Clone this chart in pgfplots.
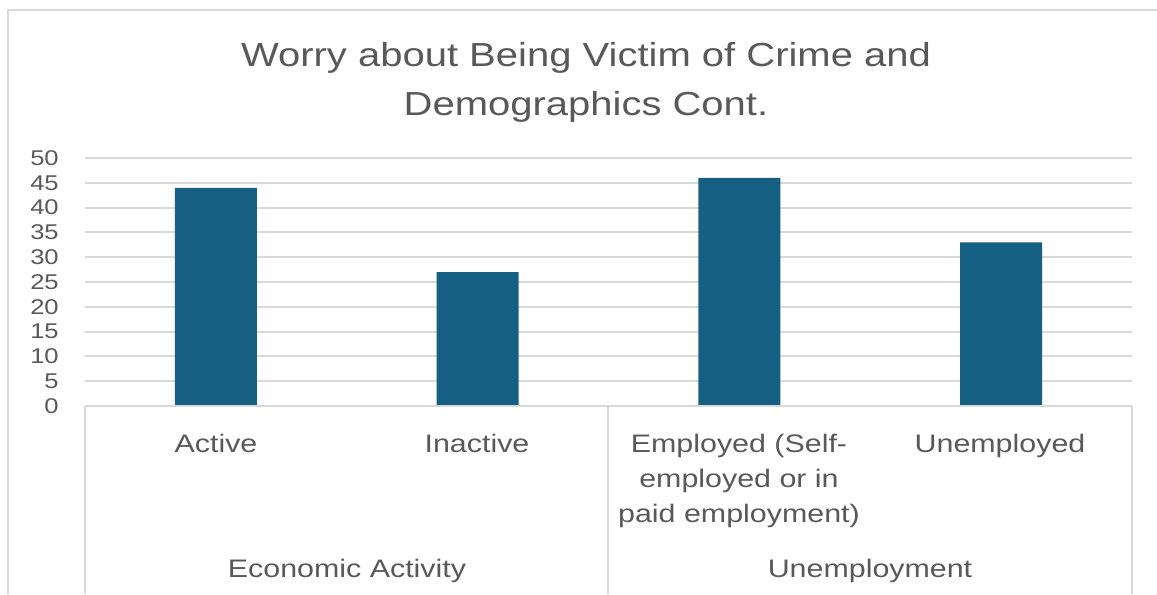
\documentclass[border=0pt]{standalone}
\usepackage{fontspec}
\setmainfont{Liberation Sans}[FakeStretch=1.2]
\usepackage{pgfplots}
\pgfplotsset{compat=1.18}

\definecolor{barblue}{HTML}{156082}
\definecolor{txtgray}{HTML}{595959}
\definecolor{linegray}{HTML}{D9D9D9}

\begin{document}
% picture in pixel units of the reference (1px = 0.75pt), y measured upward
\begin{tikzpicture}[x=0.75pt,y=0.75pt]
\useasboundingbox (0,0) rectangle (1157,594);

% chart frame (only top and left edge visible)
\draw[linegray, line width=1.5pt] (7.5,0) -- (7.5,584) -- (1157,584);

% title
\node[txtgray, anchor=base, font=\fontsize{25}{30}\selectfont] at (586,527) {Worry about Being Victim of Crime and};
\node[txtgray, anchor=base, font=\fontsize{25}{30}\selectfont] at (586,479) {Demographics Cont.};

\begin{axis}[
    at={(63.75pt,141pt)}, anchor=south west,
    scale only axis,
    width=785.25pt, height=186pt,
    xmin=-0.5, xmax=3.5,
    ymin=0, ymax=50,
    ytick={0,5,...,50},
    xtick=\empty,
    ymajorgrids=true,
    grid style={draw=linegray, line width=1.5pt},
    axis line style={draw=none},
    major tick length=0pt,
    /pgf/number format/assume math mode=true,
    yticklabel style={font=\fontsize{16}{18}\selectfont, text=txtgray, inner sep=0pt, xshift=-19.5pt},
    ybar, bar width=61.5pt,
]
\addplot[fill=barblue, draw=none] coordinates {(0,44) (1,27) (2,46) (3,33)};
\end{axis}

% category axis with two levels
\draw[linegray, line width=1.5pt] (85,188) -- (1132,188);
\draw[linegray, line width=1.5pt] (85,188) -- (85,0);
\draw[linegray, line width=1.5pt] (608,188) -- (608,0);
\draw[linegray, line width=1.5pt] (1132,188) -- (1132,0);

\begin{scope}[every node/.style={txtgray, anchor=base, font=\fontsize{19}{22}\selectfont}]
\node at (216,142) {Active};
\node at (477,142) {Inactive};
\node at (739,142) {Employed (Self-};
\node at (739,107) {employed or in};
\node at (739,72) {paid employment)};
\node at (1000,142) {Unemployed};
\node at (347,17) {Economic Activity};
\node at (870,17) {Unemployment};
\end{scope}
\end{tikzpicture}
\end{document}
